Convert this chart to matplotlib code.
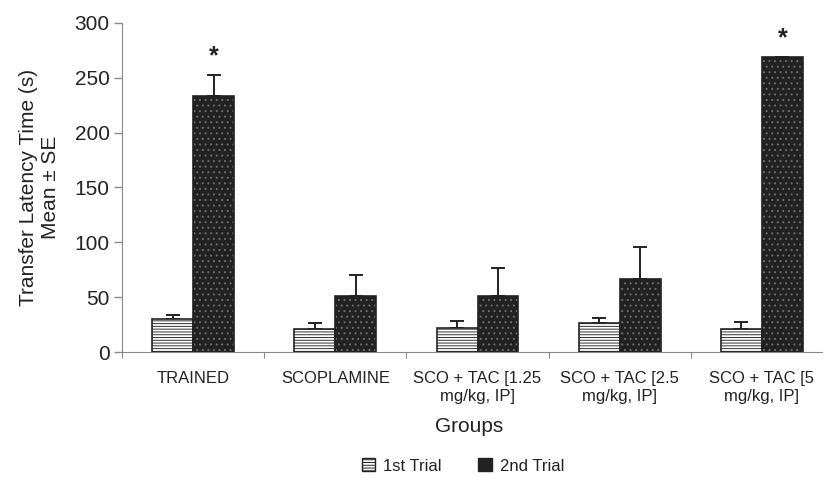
import numpy as np
import matplotlib
matplotlib.use("Agg")
import matplotlib.pyplot as plt
from matplotlib.patches import Patch

plt.rcParams['font.family'] = ['Liberation Sans', 'DejaVu Sans']
plt.rcParams['hatch.linewidth'] = 0.7

# data
groups = ['TRAINED', 'SCOPLAMINE', 'SCO + TAC [1.25\nmg/kg, IP]',
          'SCO + TAC [2.5\nmg/kg, IP]', 'SCO + TAC [5\nmg/kg, IP]']
trial1_mean = [30, 21, 22, 26, 21]
trial1_se = [4, 5, 6, 5, 6]
trial2_mean = [233, 51, 51, 67, 269]
trial2_se = [20, 19, 26, 29, 0]
significant = [True, False, False, False, True]
yticks = [0, 50, 100, 150, 200, 250, 300]

fig = plt.figure(figsize=(8.23, 4.78), dpi=100)
ax = fig.add_axes([122 / 823, 126 / 478, 711 / 823, 329 / 478])

x = np.arange(len(groups))
w = 0.288
text_col = '#222222'

# 1st trial: white bars with horizontal lines
ax.bar(x - w / 2, trial1_mean, w, color='white', edgecolor='#333333',
       hatch='------', linewidth=0, zorder=2)
ax.bar(x - w / 2, trial1_mean, w, fill=False, edgecolor='#222222',
       linewidth=1.2, zorder=3)
ax.errorbar(x - w / 2, trial1_mean, yerr=[np.zeros(len(x)), trial1_se],
            fmt='none', ecolor='#222222', elinewidth=1.4, capsize=5,
            capthick=1.4, zorder=1)

# 2nd trial: dark bars with small grey dots
ax.bar(x + w / 2, trial2_mean, w, color='#222222', edgecolor='#6e6e6e',
       hatch='...', linewidth=0, zorder=2)
ax.bar(x + w / 2, trial2_mean, w, fill=False, edgecolor='#222222',
       linewidth=1.2, zorder=3)
ax.errorbar(x + w / 2, trial2_mean, yerr=[np.zeros(len(x)), trial2_se],
            fmt='none', ecolor='#222222', elinewidth=1.4, capsize=5,
            capthick=1.4, zorder=1)

# significance stars
for xi, m, s, sig in zip(x, trial2_mean, trial2_se, significant):
    if sig:
        ax.text(xi + w / 2, m + s + 17, '*', ha='center', va='center',
                fontsize=18, fontweight='bold', color=text_col)

ax.set_xlim(-0.5, len(groups) - 0.5)
ax.set_ylim(0, 300)
ax.set_yticks(yticks)
ax.tick_params(axis='y', labelsize=15, colors='#888888', labelcolor=text_col,
               length=6, width=1, pad=3)

# boundaries as major ticks, labels on minor ticks at the centres
ax.set_xticks(np.arange(len(groups) + 1) - 0.5)
ax.set_xticklabels([])
ax.set_xticks(x, minor=True)
ax.set_xticklabels(groups, minor=True, fontsize=12, color=text_col)
ax.tick_params(axis='x', which='major', length=4, colors='#888888')
ax.tick_params(axis='x', which='minor', length=0, pad=14)

for side in ['top', 'right']:
    ax.spines[side].set_visible(False)
ax.spines['left'].set_color('#888888')
ax.spines['bottom'].set_color('#888888')

ax.set_ylabel('Transfer Latency Time (s)\nMean ± SE', fontsize=15,
              color=text_col, labelpad=10)
fig.text(469 / 823, 1 - 427 / 478, 'Groups', ha='center', va='center',
         fontsize=15, color=text_col)

handles = [
    Patch(facecolor='white', edgecolor='#222222', hatch='------', label='1st Trial'),
    Patch(facecolor='#222222', edgecolor='#222222', label='2nd Trial'),
]
leg = fig.legend(handles=handles, loc='center', ncol=2, frameon=False,
                 bbox_to_anchor=(463 / 823, 1 - 466 / 478), fontsize=12,
                 handlelength=0.8, handleheight=0.8, handletextpad=0.5,
                 columnspacing=2.2)
for t in leg.get_texts():
    t.set_color(text_col)

fig.savefig('out.png', dpi=100)
